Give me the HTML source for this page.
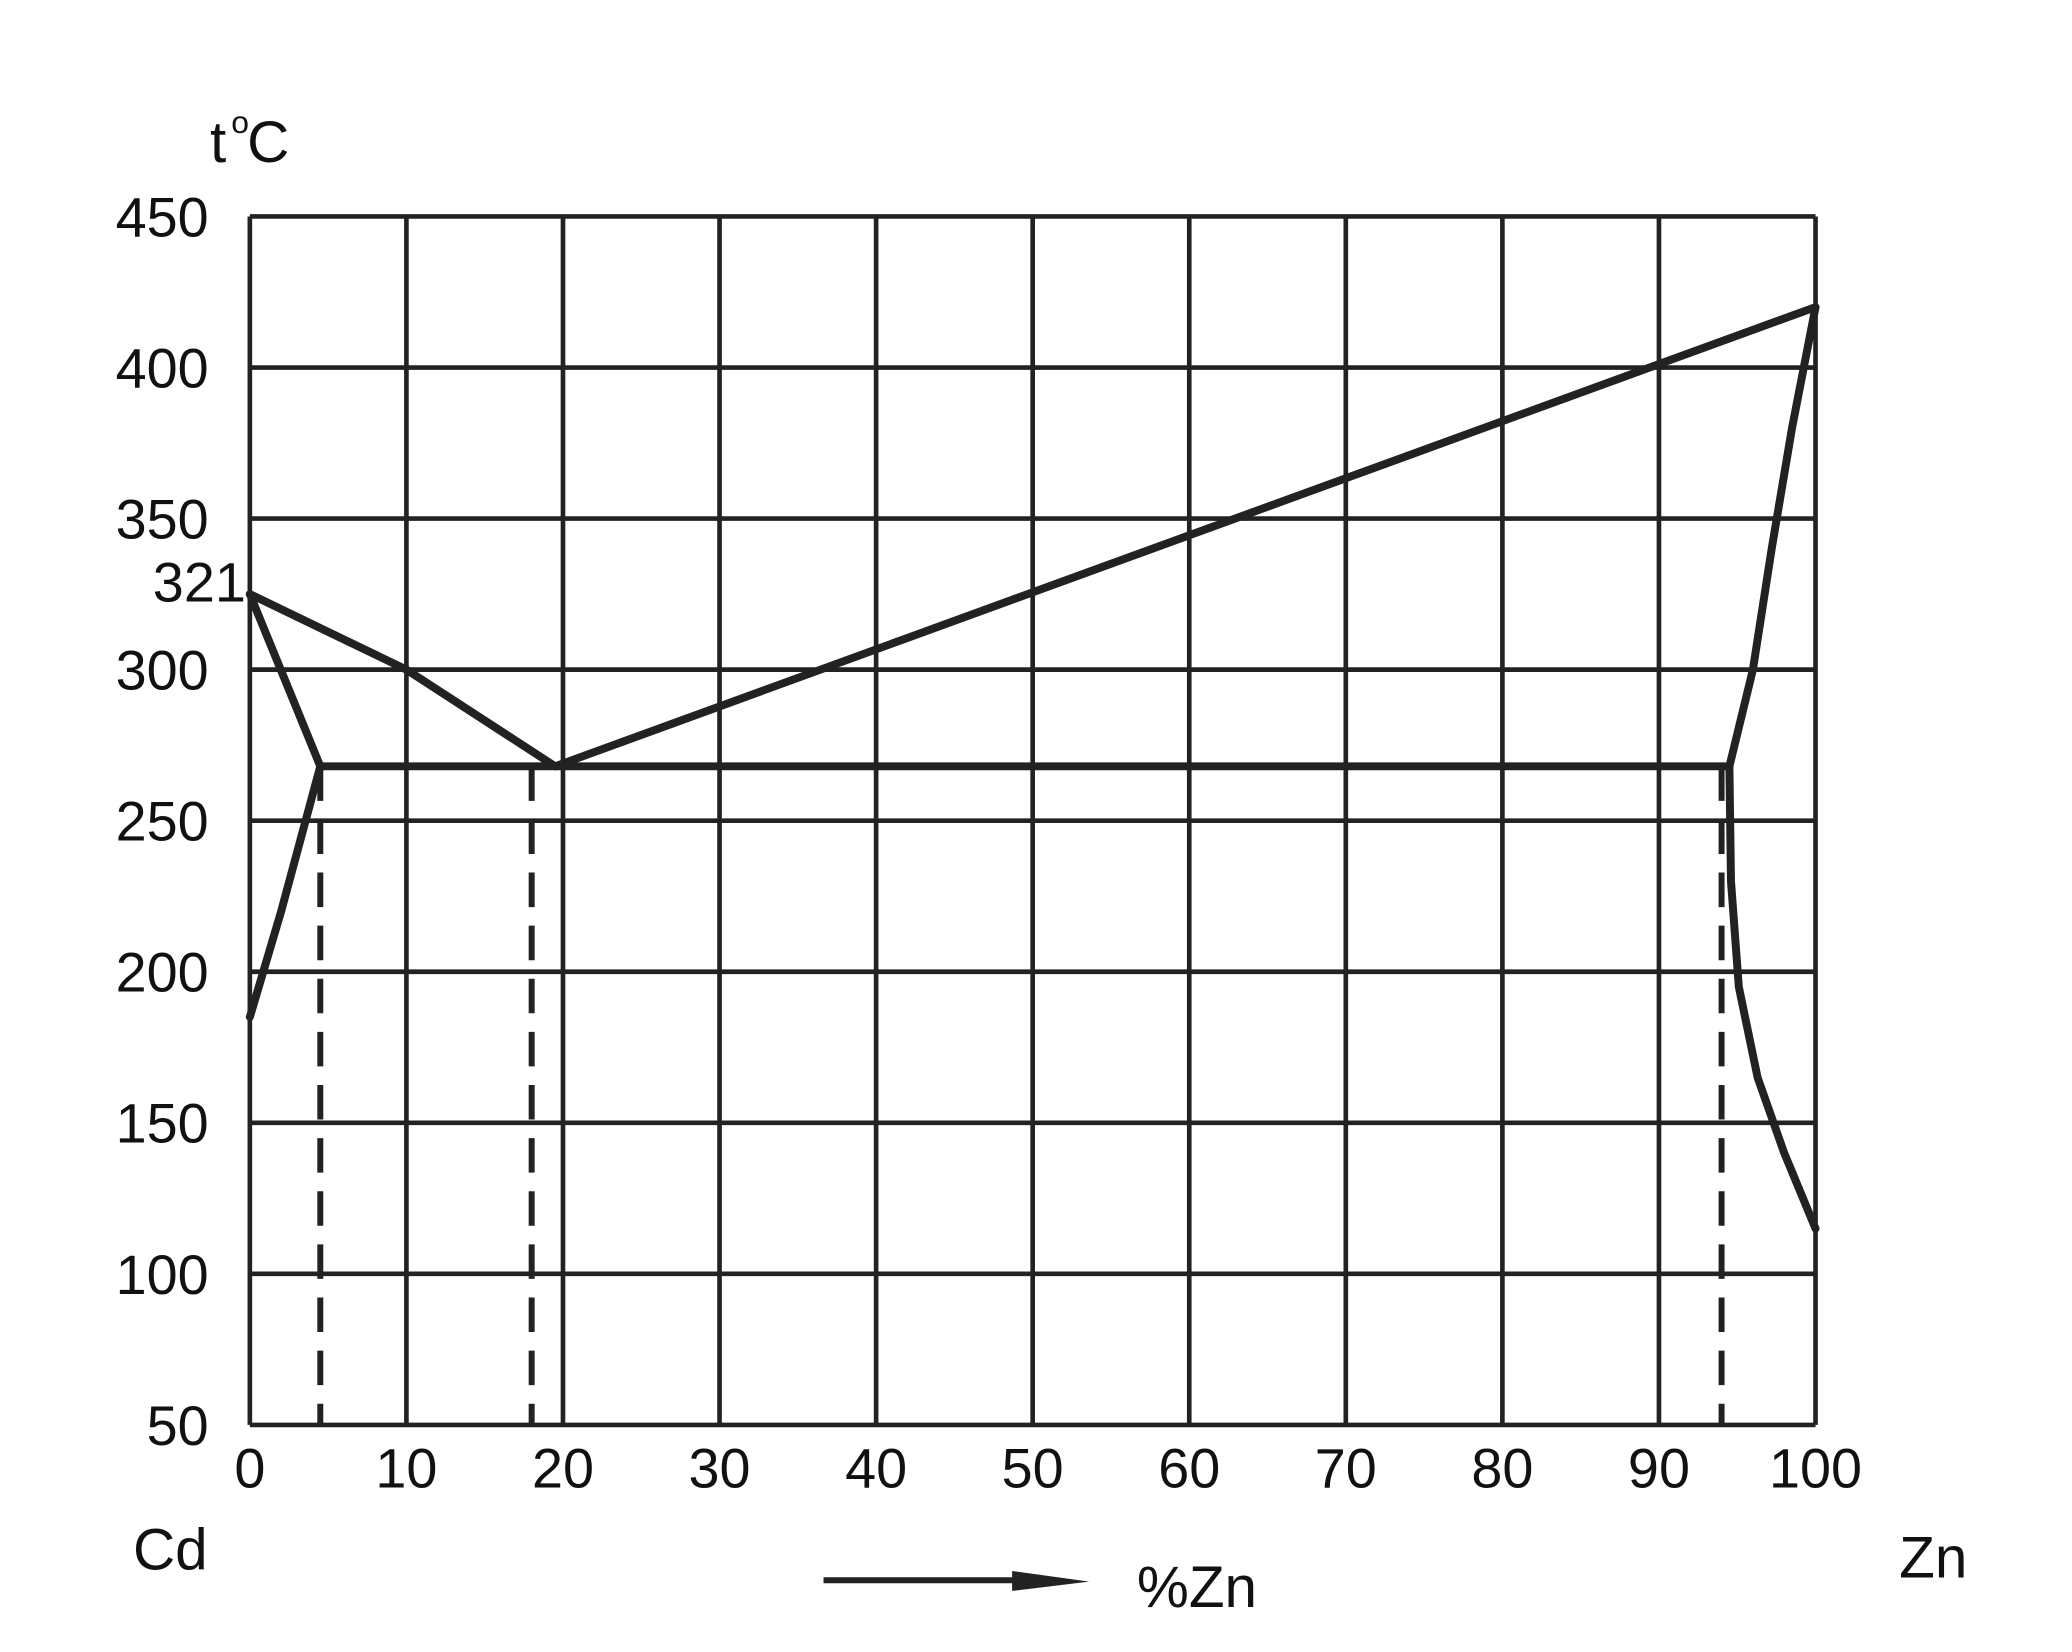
<!DOCTYPE html>
<html><head><meta charset="utf-8"><style>
html,body{margin:0;padding:0;background:#fff;}
svg{display:block;}
text{font-family:"Liberation Sans",sans-serif;fill:#111;}
</style></head><body>
<svg width="2072" height="1652" viewBox="0 0 1560 1244" xmlns="http://www.w3.org/2000/svg">
<g id="grid"></g>
<g id="curves"></g>
<g id="labels"></g>
<text x="158" y="122" font-size="44">t</text>
<text x="174" y="100" font-size="24">o</text>
<text x="186" y="122" font-size="44">C</text>
<text x="185" y="453" font-size="42" text-anchor="end">321</text>
<text x="100" y="1182" font-size="44">Cd</text>
<text x="1430" y="1188" font-size="44">Zn</text>
<text x="856" y="1210" font-size="44">%Zn</text>
<line x1="620" y1="1190" x2="790" y2="1190" stroke="#222" stroke-width="4.5"/>
<polygon points="762,1183 820,1191 762,1198" fill="#222"/>
</svg>
<script>
const xTicks=[0,10,20,30,40,50,60,70,80,90,100];
const yTicks=[50,100,150,200,250,300,350,400,450];
const liquidusCd=[[0,325],[10,300],[19.5,268]];
const liquidusZn=[[19.5,268],[100,420]];
const solidusCd=[[0,325],[4.5,268]];
const solvusCd=[[4.5,268],[2,220],[0,185]];
const solidusZn=[[100,420],[98.5,380],[97.2,340],[96,300],[94.5,268]];
const solvusZn=[[94.5,268],[94.6,230],[95.1,195],[96.3,165],[98,140],[100,115]];
const eutectic=[[4.5,268],[94.5,268]];
const dashedX=[4.5,18,94];
const NS="http://www.w3.org/2000/svg";
const X=v=>188+v*(1367-188)/100;
const Y=t=>1073-(t-50)*(1073-163)/400;
function mk(parent,tag,attrs){const e=document.createElementNS(NS,tag);for(const k in attrs)e.setAttribute(k,attrs[k]);parent.appendChild(e);return e;}
const g=document.getElementById('grid'),c=document.getElementById('curves'),l=document.getElementById('labels');
xTicks.forEach(v=>{const e=mk(g,'line',{x1:X(v),y1:Y(450),x2:X(v),y2:Y(50),stroke:'#222','stroke-width':3.5});


const t=mk(l,'text',{x:X(v),y:1120,'font-size':42,'text-anchor':'middle'});t.textContent=v;

});
yTicks.forEach(v=>{const e=mk(g,'line',{x1:X(0),y1:Y(v),x2:X(100),y2:Y(v),stroke:'#222','stroke-width':3.5});


const t=mk(l,'text',{x:157,y:Y(v)+15,'font-size':42,'text-anchor':'end'});t.textContent=v;

});
function poly(pts,name){const e=mk(c,'polyline',{points:pts.map(p=>X(p[0])+','+Y(p[1])).join(' '),fill:'none',stroke:'#222','stroke-width':6,'stroke-linejoin':'round','stroke-linecap':'round'});

}
poly(liquidusCd,'liquidus-cd');poly(liquidusZn,'liquidus-zn');poly(solidusCd,'solidus-cd');poly(solvusCd,'solvus-cd');
poly(solidusZn,'solidus-zn');poly(solvusZn,'solvus-zn');poly(eutectic,'eutectic-line');
dashedX.forEach(v=>{const e=mk(c,'line',{x1:X(v),y1:Y(268),x2:X(v),y2:Y(50),stroke:'#222','stroke-width':4.5,'stroke-dasharray':'26 14'});

});
</script>
</body></html>
